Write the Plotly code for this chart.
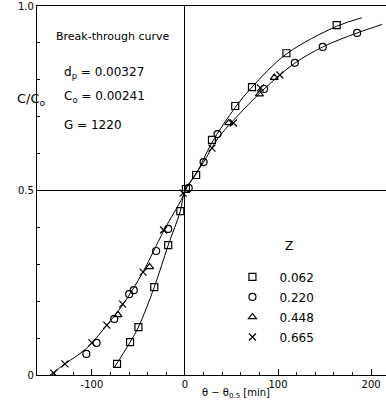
import plotly.graph_objects as go

# Marker data (theta - theta_0.5 [min], C/C0)
sq_x = [-73, -59, -50, -33, -18, -5, 1, 12, 29, 54, 72, 109, 163]
sq_y = [0.030, 0.089, 0.130, 0.238, 0.352, 0.444, 0.504, 0.542, 0.637, 0.729, 0.780, 0.872, 0.948]

ci_x = [-106, -95, -76, -60, -55, -31, -18, 4, 20, 35, 85, 118, 148, 185]
ci_y = [0.057, 0.087, 0.152, 0.219, 0.230, 0.336, 0.396, 0.507, 0.577, 0.653, 0.775, 0.846, 0.889, 0.927]

tr_x = [-72, -38, 47, 80, 96]
tr_y = [0.163, 0.293, 0.683, 0.761, 0.806]

xx_x = [-141, -129, -100, -84, -67, -45, -23, -2, 29, 52, 81, 102]
xx_y = [0.005, 0.030, 0.087, 0.135, 0.192, 0.279, 0.393, 0.493, 0.615, 0.683, 0.778, 0.813]

# Hand-drawn curves
fast_x = [-76, -59, -50, -33, -18, -5, 0, 12, 29, 54, 72, 109, 163, 190]
fast_y = [0.02, 0.089, 0.130, 0.238, 0.352, 0.444, 0.50, 0.545, 0.630, 0.725, 0.780, 0.870, 0.945, 0.968]

slow_x = [-145, -129, -106, -84, -67, -45, -23, -3, 0, 20, 35, 52, 85, 118, 148, 185, 212]
slow_y = [0.0, 0.030, 0.072, 0.135, 0.190, 0.280, 0.390, 0.480, 0.50, 0.577, 0.640, 0.690, 0.775, 0.845, 0.889, 0.927, 0.950]

legend_labels = ["0.062", "0.220", "0.448", "0.665"]

FONT = "DejaVu Sans"

fig = go.Figure()
fig.add_trace(go.Scatter(x=fast_x, y=fast_y, mode="lines", line=dict(color="black", width=1, shape="spline", smoothing=1.0), showlegend=False, hoverinfo="skip"))
fig.add_trace(go.Scatter(x=slow_x, y=slow_y, mode="lines", line=dict(color="black", width=1, shape="spline", smoothing=1.0), showlegend=False, hoverinfo="skip"))

series = [
    (sq_x, sq_y, "square-open"),
    (ci_x, ci_y, "circle-open"),
    (tr_x, tr_y, "triangle-up-open"),
    (xx_x, xx_y, "x-thin-open"),
]
for i, (sx, sy, sym) in enumerate(series):
    fig.add_trace(go.Scatter(x=sx, y=sy, mode="markers", name=legend_labels[i], legendgroup=f"g{i}",
                             marker=dict(symbol=sym, color="black", size=7, line=dict(width=1.2, color="black"))))

fig.add_shape(type="line", xref="paper", yref="y", x0=0, x1=1, y0=0.5, y1=0.5, line=dict(color="black", width=1.2))

fig.add_annotation(text="Break-through curve", x=0.215, y=0.94, xref="paper", yref="paper",
                   xanchor="center", showarrow=False, font=dict(family=FONT, size=11, color="black"))
for t, yp in [("d<sub>p</sub> = 0.00327", 0.845), ("C<sub>o</sub> = 0.00241", 0.78), ("G = 1220", 0.702)]:
    fig.add_annotation(text=t, x=0.072, y=yp, xref="paper", yref="paper", xanchor="left", showarrow=False,
                       font=dict(family=FONT, size=12, color="black"))

fig.add_annotation(text="C/C<sub>o</sub>", x=-0.063, y=0.775, xref="paper", yref="paper", showarrow=False,
                   font=dict(family=FONT, size=13, color="black"))
fig.add_annotation(text="Z", x=0.739, y=0.325, xref="paper", yref="paper", showarrow=False,
                   font=dict(family=FONT, size=12, color="black"))
fig.add_annotation(text="θ − θ<sub>0.5</sub> [min]", x=0.57, y=-0.05, xref="paper", yref="paper", showarrow=False,
                   xanchor="center", yanchor="middle", font=dict(family=FONT, size=10, color="black"))

fig.update_layout(
    width=386, height=402,
    margin=dict(l=37, r=0, t=6, b=27, autoexpand=False),
    paper_bgcolor="white", plot_bgcolor="white",
    font=dict(family=FONT, size=10, color="black"),
    legend=dict(x=0.54, y=0.305, xanchor="left", yanchor="top", bgcolor="rgba(0,0,0,0)",
                font=dict(size=12), itemwidth=44, tracegroupgap=1),
    xaxis=dict(range=[-159, 216], showgrid=False, zeroline=True, zerolinecolor="black", zerolinewidth=1.2,
               showline=True, linecolor="black", linewidth=1.2, mirror=True, automargin=False,
               tickmode="array", tickvals=[-100, 0, 100, 200], ticktext=["-100", "0", "100", "200"],
               ticks="inside", ticklen=6, tickcolor="black",
               minor=dict(dtick=20, ticks="inside", ticklen=3, tickcolor="black")),
    yaxis=dict(range=[0, 1], showgrid=False, zeroline=False, automargin=False,
               showline=True, linecolor="black", linewidth=1.2,
               tickmode="array", tickvals=[0, 0.5, 1.0], ticktext=["0", "0.5", "1.0"],
               ticks="inside", ticklen=4, tickcolor="black",
               minor=dict(dtick=0.1, ticks="inside", ticklen=3, tickcolor="black")),
)
fig.write_html("out.html", config={"displayModeBar": False},
               post_script="document.body.style.margin='0';")
